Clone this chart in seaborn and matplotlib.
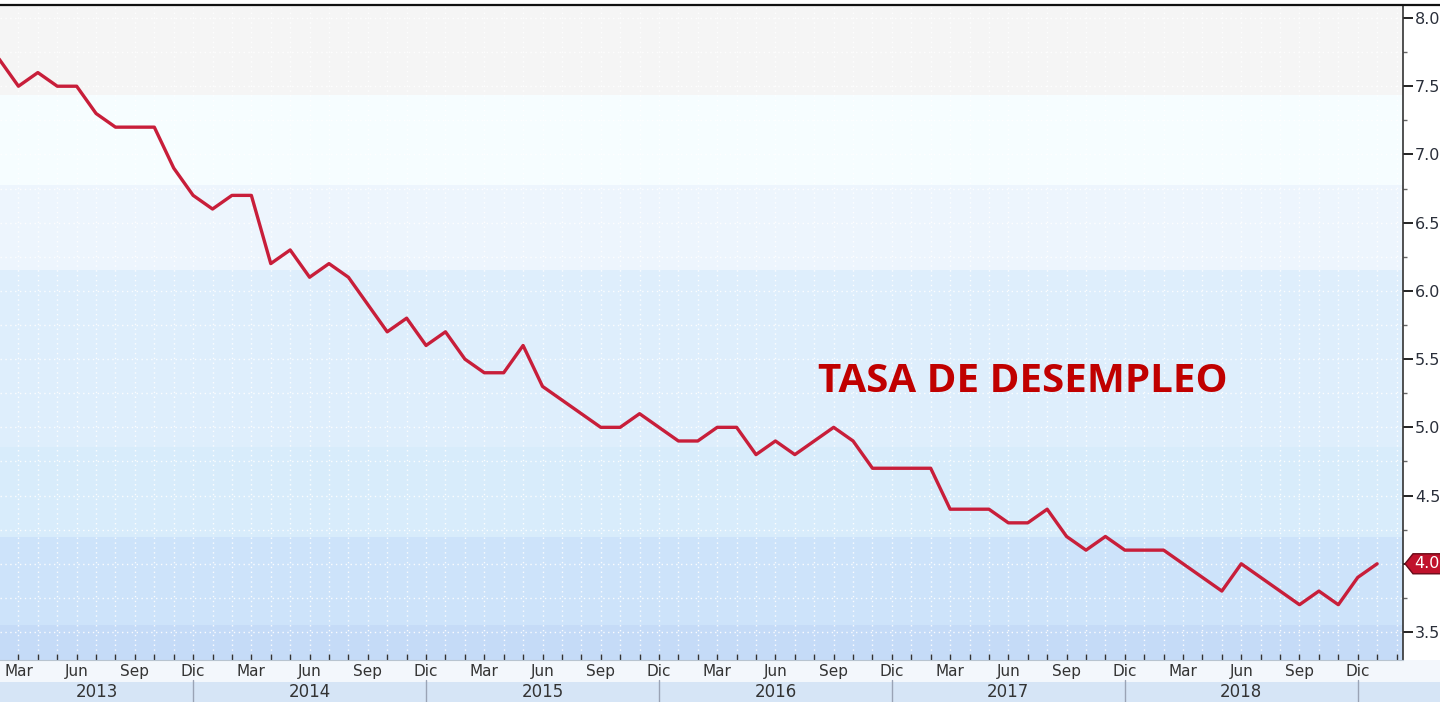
import numpy as np
import pandas as pd
import matplotlib
matplotlib.use("Agg")
import matplotlib.pyplot as plt
import seaborn as sns
from matplotlib.patches import Rectangle, Polygon
from matplotlib.lines import Line2D
from matplotlib.ticker import FixedLocator, MultipleLocator, FuncFormatter

START = "2013-02"
RATE = [7.7, 7.5, 7.6, 7.5, 7.5, 7.3, 7.2, 7.2, 7.2, 6.9, 6.7,
        6.6, 6.7, 6.7, 6.2, 6.3, 6.1, 6.2, 6.1, 5.9, 5.7, 5.8, 5.6,
        5.7, 5.5, 5.4, 5.4, 5.6, 5.3, 5.2, 5.1, 5.0, 5.0, 5.1, 5.0,
        4.9, 4.9, 5.0, 5.0, 4.8, 4.9, 4.8, 4.9, 5.0, 4.9, 4.7, 4.7,
        4.7, 4.7, 4.4, 4.4, 4.4, 4.3, 4.3, 4.4, 4.2, 4.1, 4.2, 4.1,
        4.1, 4.1, 4.0, 3.9, 3.8, 4.0, 3.9, 3.8, 3.7, 3.8, 3.7, 3.9,
        4.0]
MONTH_ABBR = ["Ene", "Feb", "Mar", "Abr", "May", "Jun",
              "Jul", "Ago", "Sep", "Oct", "Nov", "Dic"]
LABEL_MONTHS = ["Mar", "Jun", "Sep", "Dic"]
YEARS = [2013, 2014, 2015, 2016, 2017, 2018]
TITLE = "TASA DE DESEMPLEO"

W, H = 1440, 702
AX_L, AX_R, AX_T, AX_B = 0, 1403, 5, 660

dates = pd.period_range(START, periods=len(RATE), freq="M")
df = pd.DataFrame({"pos": np.arange(len(RATE)), "rate": RATE,
                   "month": [MONTH_ABBR[d.month - 1] for d in dates],
                   "year": [d.year for d in dates]})

sns.set_theme(style="white")
plt.rcParams["font.family"] = ["DejaVu Sans"]

fig = plt.figure(figsize=(W / 100, H / 100), dpi=100)
fig.patch.set_facecolor("white")
ax = fig.add_axes([AX_L / W, 1 - AX_B / H, (AX_R - AX_L) / W, (AX_B - AX_T) / H])
ax.set_facecolor("none")

# background bands, pixel rows from the top of the figure
bands = [(5, 95, "#f5f5f5"), (95, 185, "#f6fdff"), (185, 270, "#edf5fd"),
         (270, 447, "#deeefc"), (447, 537, "#d8ecfb"), (537, 625, "#cde3fa"),
         (625, 660, "#c5dbf7")]
for top, bot, c in bands:
    y0 = 1 - (bot - AX_T) / (AX_B - AX_T)
    y1 = 1 - (top - AX_T) / (AX_B - AX_T)
    ax.add_patch(Rectangle((0, y0), 1, y1 - y0, transform=ax.transAxes,
                           facecolor=c, edgecolor="none", zorder=0))

sns.lineplot(data=df, x="pos", y="rate", ax=ax, color="#c81e3a", lw=2.4, zorder=3)

px_per_month = 19.41
x_left = 0.05
ax.set_xlim(x_left, x_left + (AX_R - AX_L) / px_per_month)
px_per_unit = 136.44
ax.set_ylim(3.5 - (AX_B - 632) / px_per_unit, 8.0 + (18 - AX_T) / px_per_unit)

# x ticks
lab = df[df["month"].isin(LABEL_MONTHS)]
ax.set_xticks(lab["pos"].to_numpy())
ax.set_xticklabels(lab["month"].tolist())
ax.xaxis.set_minor_locator(FixedLocator(np.arange(0, len(RATE) + 2)))
ax.tick_params(axis="x", which="both", direction="in", length=4, width=1,
               color="#333333", labelsize=11, labelcolor="#333333", pad=3,
               bottom=True)
ax.set_xlabel("")
ax.set_ylabel("")

# y ticks on right
ax.yaxis.tick_right()
ax.yaxis.set_major_locator(MultipleLocator(0.5))
ax.yaxis.set_minor_locator(MultipleLocator(0.25))
last = RATE[-1]
ax.yaxis.set_major_formatter(FuncFormatter(
    lambda v, p: "" if abs(v - last) < 1e-6 else f"{v:.1f}"))
ax.tick_params(axis="y", which="major", direction="out", length=7, width=1.4,
               color="#222222", labelsize=11.5, labelcolor="#2a2f3a", pad=1.5,
               right=True, left=False)
ax.tick_params(axis="y", which="minor", direction="out", length=3, width=1,
               color="#666666", right=True, left=False)

ax.grid(which="both", color="white", linestyle=(0, (1, 2.5)), lw=1.0, alpha=0.9)
ax.set_axisbelow(True)

for s in ["left", "top"]:
    ax.spines[s].set_visible(False)
ax.spines["right"].set_color("#333333")
ax.spines["right"].set_linewidth(1.2)
ax.spines["bottom"].set_color("#b8c4d0")
ax.spines["bottom"].set_linewidth(0.8)

# top border across full width
fig.add_artist(Line2D([0, 1], [1 - AX_T / H] * 2, color="#111111", lw=1.6))

# label rows below plot
month_row_top = 1 - AX_B / H
year_row_top = 1 - 682 / H
fig.add_artist(Rectangle((0, year_row_top), 1, month_row_top - year_row_top,
                         transform=fig.transFigure, facecolor="#f3f7fc",
                         edgecolor="none", zorder=-1))
fig.add_artist(Rectangle((0, 0), 1, year_row_top, transform=fig.transFigure,
                         facecolor="#d6e5f6", edgecolor="none", zorder=-1))

# year separators and labels
xt = ax.get_xaxis_transform()
h_ax = AX_B - AX_T
dec_pos = df.loc[df["month"] == "Dic", "pos"].to_list()
for p in dec_pos:
    ax.plot([p, p], [-(680 - AX_B) / h_ax, -(H - AX_B) / h_ax], transform=xt,
            color="#9aa3b5", lw=1, clip_on=False)
bounds = [x_left] + dec_pos
for yr, a, b in zip(YEARS, bounds[:-1], bounds[1:]):
    ax.text((a + b) / 2, -(692 - AX_B) / h_ax, str(yr), transform=xt,
            ha="center", va="center", fontsize=12, color="#333333")

# last value badge
yt = ax.get_yaxis_transform()
dy = 10 / px_per_unit
w_ax = AX_R - AX_L
badge = Polygon([(1.0 + 2 / w_ax, last), (1 + 10 / w_ax, last + dy),
                 (1 + 60 / w_ax, last + dy), (1 + 60 / w_ax, last - dy),
                 (1 + 10 / w_ax, last - dy)], closed=True, transform=yt,
                facecolor="#c0122c", edgecolor="#6a0a18", lw=1, clip_on=False,
                zorder=5)
ax.add_patch(badge)
ax.text(1 + 11 / w_ax, last, f"{last:.1f}", transform=yt, ha="left", va="center",
        fontsize=11.5, color="white", zorder=6, clip_on=False)

ax.text(1023 / w_ax, 1 - (381 - AX_T) / h_ax, TITLE, transform=ax.transAxes,
        ha="center", va="center", fontsize=29, fontweight="bold",
        family=["Open Sans", "DejaVu Sans"], color="#c00000", zorder=4)

fig.savefig("out.png", dpi=100)
